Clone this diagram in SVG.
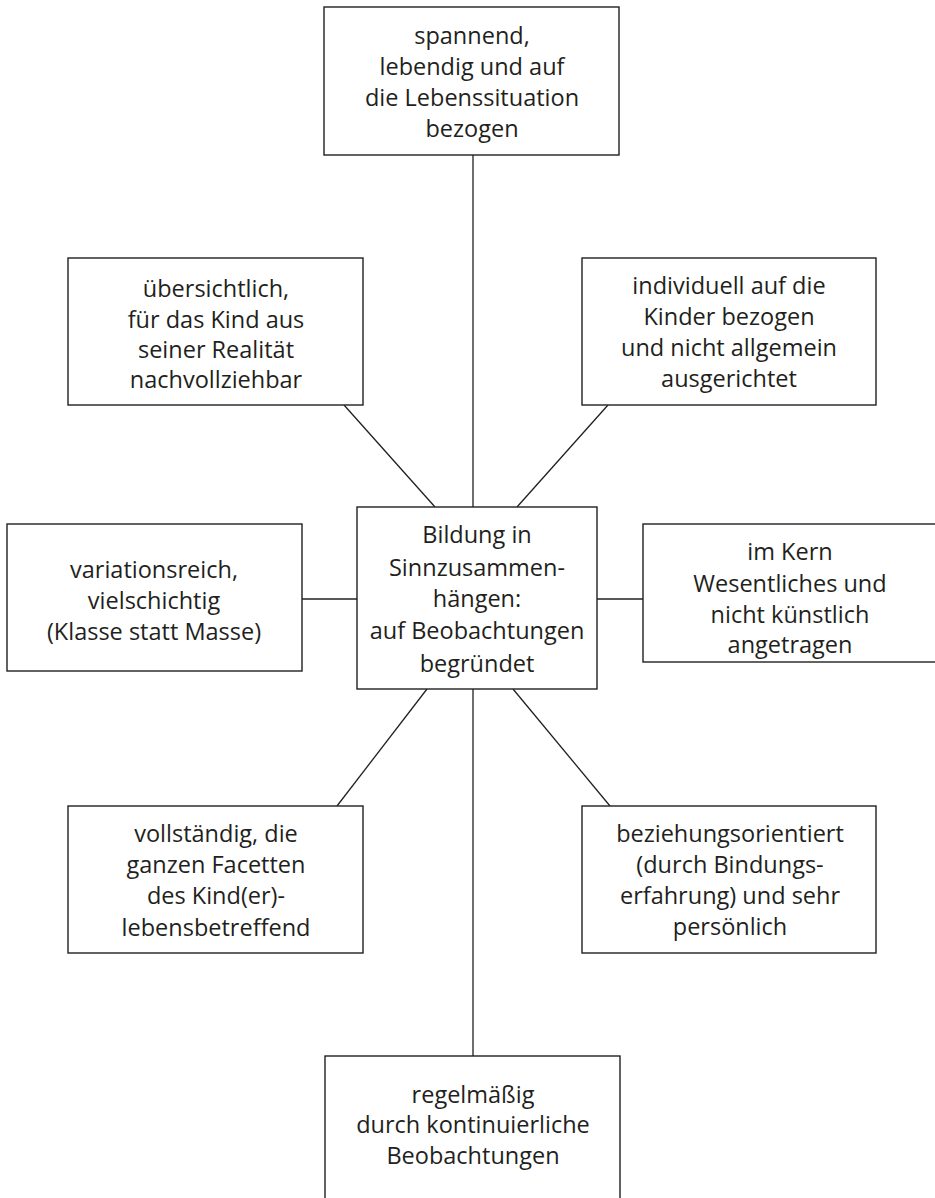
<svg xmlns="http://www.w3.org/2000/svg" width="935" height="1198" viewBox="0 0 935 1198">
<style>
.box{fill:#fff;stroke:#231f20;stroke-width:1.4}
.con line{stroke:#231f20;stroke-width:1.3}
text{font-family:"Open Sans","Noto Sans","Liberation Sans",sans-serif;font-size:23.5px;fill:#231f20;text-anchor:middle}
</style>
<rect width="935" height="1198" fill="#fff"/>
<g class="con" id="connectors">
<line x1="473" y1="155" x2="473" y2="507"/>
<line x1="344" y1="405" x2="435" y2="507"/>
<line x1="608" y1="405" x2="517" y2="507"/>
<line x1="302" y1="599" x2="357" y2="599"/>
<line x1="597" y1="599" x2="643" y2="599"/>
<line x1="337" y1="806" x2="427" y2="689"/>
<line x1="610" y1="806" x2="513" y2="689"/>
<line x1="473" y1="689" x2="473" y2="1056"/>
</g>
<g id="n-top">
<rect class="box" x="324" y="7" width="295" height="148"/>
<text x="472" y="44">spannend,</text>
<text x="472" y="75">lebendig und auf</text>
<text x="472" y="106">die Lebenssituation</text>
<text x="472" y="137">bezogen</text>
</g>
<g id="n-upper-left">
<rect class="box" x="68" y="258" width="295" height="147"/>
<text x="216" y="297">übersichtlich,</text>
<text x="216" y="328">für das Kind aus</text>
<text x="216" y="358">seiner Realität</text>
<text x="216" y="388">nachvollziehbar</text>
</g>
<g id="n-upper-right">
<rect class="box" x="582" y="258" width="294" height="147"/>
<text x="729" y="294">individuell auf die</text>
<text x="729" y="325">Kinder bezogen</text>
<text x="729" y="356">und nicht allgemein</text>
<text x="729" y="387">ausgerichtet</text>
</g>
<g id="n-center">
<rect class="box" x="357" y="507" width="240" height="182"/>
<text x="477" y="543">Bildung in</text>
<text x="477" y="576">Sinnzusammen-</text>
<text x="477" y="607">hängen:</text>
<text x="477" y="639">auf Beobachtungen</text>
<text x="477" y="672">begründet</text>
</g>
<g id="n-left">
<rect class="box" x="7" y="524" width="295" height="147"/>
<text x="154" y="578">variationsreich,</text>
<text x="154" y="609">vielschichtig</text>
<text x="154" y="640">(Klasse statt Masse)</text>
</g>
<g id="n-right">
<rect class="box" x="643" y="524" width="300" height="138"/>
<text x="790" y="560">im Kern</text>
<text x="790" y="592">Wesentliches und</text>
<text x="790" y="623">nicht künstlich</text>
<text x="790" y="653">angetragen</text>
</g>
<g id="n-lower-left">
<rect class="box" x="68" y="806" width="295" height="147"/>
<text x="216" y="842">vollständig, die</text>
<text x="216" y="873">ganzen Facetten</text>
<text x="216" y="904">des Kind(er)-</text>
<text x="216" y="936">lebensbetreffend</text>
</g>
<g id="n-lower-right">
<rect class="box" x="582" y="806" width="294" height="147"/>
<text x="730" y="842">beziehungsorientiert</text>
<text x="730" y="873">(durch Bindungs-</text>
<text x="730" y="904">erfahrung) und sehr</text>
<text x="730" y="935">persönlich</text>
</g>
<g id="n-bottom">
<rect class="box" x="325" y="1056" width="295" height="160"/>
<text x="473" y="1103">regelmäßig</text>
<text x="473" y="1133">durch kontinuierliche</text>
<text x="473" y="1164">Beobachtungen</text>
</g>
</svg>
